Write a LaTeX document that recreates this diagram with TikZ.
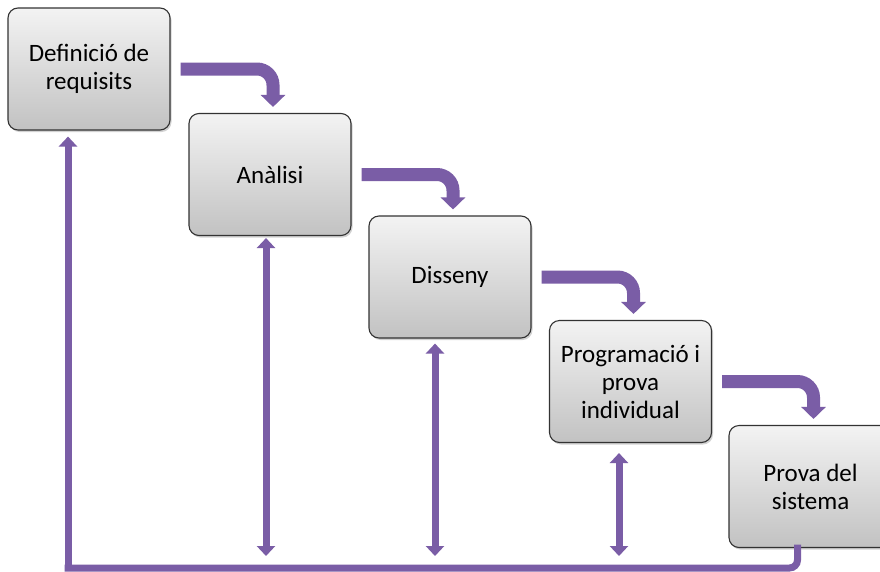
\documentclass[tikz,border=0pt]{standalone}
\usepackage{fontspec}
\setmainfont{Carlito}
\usetikzlibrary{arrows.meta,shadows,calc}
\definecolor{arrowpurple}{HTML}{7A5DA6}
\definecolor{boxborder}{HTML}{333333}
\definecolor{boxtop}{HTML}{F3F3F3}
\definecolor{boxbottom}{HTML}{C2C2C2}
\begin{document}
\begin{tikzpicture}[x=1pt,y=-1pt,
  stagebox/.style={rectangle, rounded corners=10pt, draw=boxborder, line width=1.1pt,
    top color=boxtop, bottom color=boxbottom, minimum width=162pt, minimum height=122pt,
    align=center, font=\fontsize{25}{28}\selectfont, inner sep=4pt,
    drop shadow={opacity=0.35, shadow xshift=1.5pt, shadow yshift=-2pt}},
  bigarrow/.style={draw=arrowpurple, line width=13pt, rounded corners=16pt,
    -{Triangle[width=24pt,length=12pt]}},
  thinline/.style={draw=arrowpurple, line width=7pt},
  thinarrow/.style={thinline, {Triangle[width=18pt,length=10pt]}-{Triangle[width=18pt,length=10pt]}},
  uparrow/.style={thinline, -{Triangle[width=18pt,length=10pt]}}
]
\useasboundingbox (0,0) rectangle (880,571);
\clip (0,0) rectangle (880,571);
\fill[white] (0,0) rectangle (880,571);

\node[stagebox] (b1) at (89,69) {Definició de\\requisits};
\node[stagebox] (b2) at (270,174.5) {Anàlisi};
\node[stagebox] (b3) at (450,277) {Disseny};
\node[stagebox] (b4) at (630.5,381.5) {Programació i\\prova\\individual};
\node[stagebox, minimum width=163pt] (b5) at (810.5,486.5) {Prova del\\sistema};

% curved step arrows
\draw[bigarrow] ([xshift=10pt]b1.east) -| ([xshift=3pt,yshift=6pt]b2.north);
\draw[bigarrow] ([xshift=10pt]b2.east) -| ([xshift=3pt,yshift=6pt]b3.north);
\draw[bigarrow] ([xshift=10pt]b3.east) -| ([xshift=3pt,yshift=6pt]b4.north);
\draw[bigarrow] ([xshift=10pt]b4.east) -| ([xshift=3pt,yshift=6pt]b5.north);

% bottom feedback line
\coordinate (corner) at (68,568);
\coordinate (f2) at (266,556);
\coordinate (f3) at (435,556);
\coordinate (f4) at (619,556);
\draw[thinline, rounded corners=8pt, line cap=rect] ([xshift=-13pt]b5.south) |- (corner);
\draw[uparrow] ([yshift=3.5pt]corner) -- ([xshift=-21pt,yshift=-6pt]b1.south);

% vertical double arrows
\draw[thinarrow] ([xshift=-4pt,yshift=-2pt]b2.south) -- (f2);
\draw[thinarrow] ([xshift=-15pt,yshift=-5pt]b3.south) -- (f3);
\draw[thinarrow] ([xshift=-11.5pt,yshift=-10pt]b4.south) -- (f4);
\end{tikzpicture}
\end{document}
